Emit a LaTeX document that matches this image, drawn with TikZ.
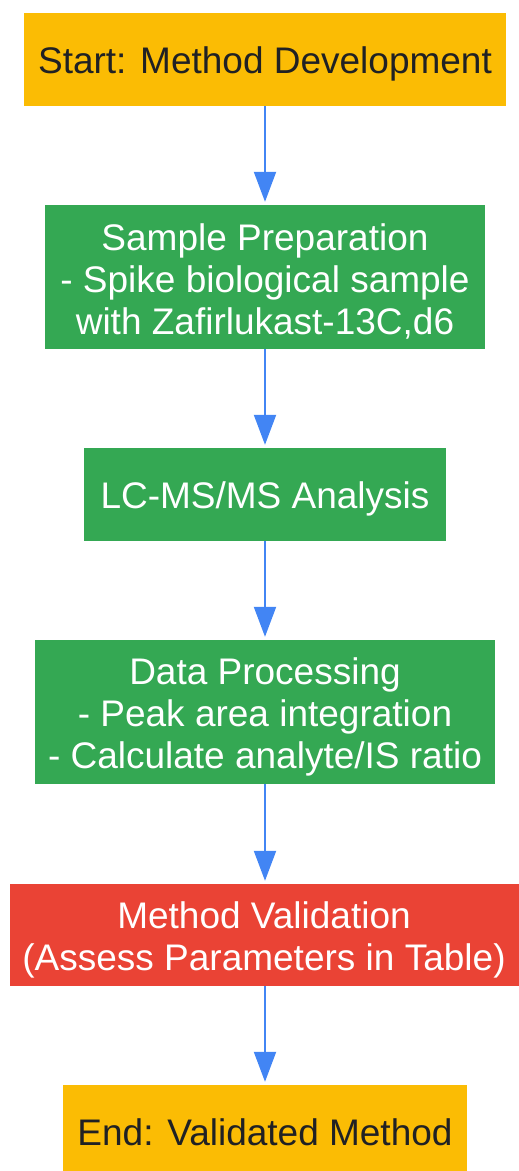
\documentclass[tikz,border=0pt]{standalone}
\usepackage{fontspec}
\setmainfont{Liberation Sans}
\usetikzlibrary{arrows.meta}
\definecolor{cyellow}{HTML}{FBBC04}
\definecolor{cgreen}{HTML}{34A853}
\definecolor{cred}{HTML}{EA4335}
\definecolor{cblue}{HTML}{4285F4}
\definecolor{cdark}{HTML}{202124}
\tikzset{
  box/.style={inner sep=0pt},
  txt/.style={inner sep=0pt, align=center, yshift=-4.5pt, font=\fontsize{37}{42}\selectfont},
  term/.style={box, fill=cyellow},
  proc/.style={box, fill=cgreen},
  valid/.style={box, fill=cred},
  dtxt/.style={txt, text=cdark},
  wtxt/.style={txt, text=white},
  conn/.style={draw=cblue, line width=2pt, -{Triangle[length=30pt,width=22pt]}, shorten >=3pt}
}
\begin{document}
\begin{tikzpicture}[x=1pt,y=-1pt]
\useasboundingbox (0,0) rectangle (519,1171);
\node[term, minimum width=482pt, minimum height=93pt] (start) at (265,59.5) {};
\node[dtxt] (startT) at (start) {Start: Method Development};
\node[proc, minimum width=440pt, minimum height=144pt] (prep) at (265,277) {};
\node[wtxt] (prepT) at (prep) {Sample Preparation\\- Spike biological sample\\with Zafirlukast-13C,d6};
\node[proc, minimum width=362pt, minimum height=93pt] (lcms) at (265,494.5) {};
\node[wtxt] (lcmsT) at (lcms) {LC-MS/MS Analysis};
\node[proc, minimum width=460pt, minimum height=144pt] (data) at (265,712) {};
\node[wtxt] (dataT) at (data) {Data Processing\\- Peak area integration\\- Calculate analyte/IS ratio};
\node[valid, minimum width=510pt, minimum height=102pt] (val) at (265,935) {};
\node[wtxt] (valT) at (264,935) {Method Validation\\(Assess Parameters in Table)};
\node[term, minimum width=404pt, minimum height=86pt] (end) at (265,1128) {};
\node[dtxt] (endT) at (end) {End: Validated Method};
\draw[conn] (start) -- (prep);
\draw[conn] (prep) -- (lcms);
\draw[conn] (lcms) -- (data);
\draw[conn] (data) -- (val);
\draw[conn] (val) -- (end);
\end{tikzpicture}
\end{document}
